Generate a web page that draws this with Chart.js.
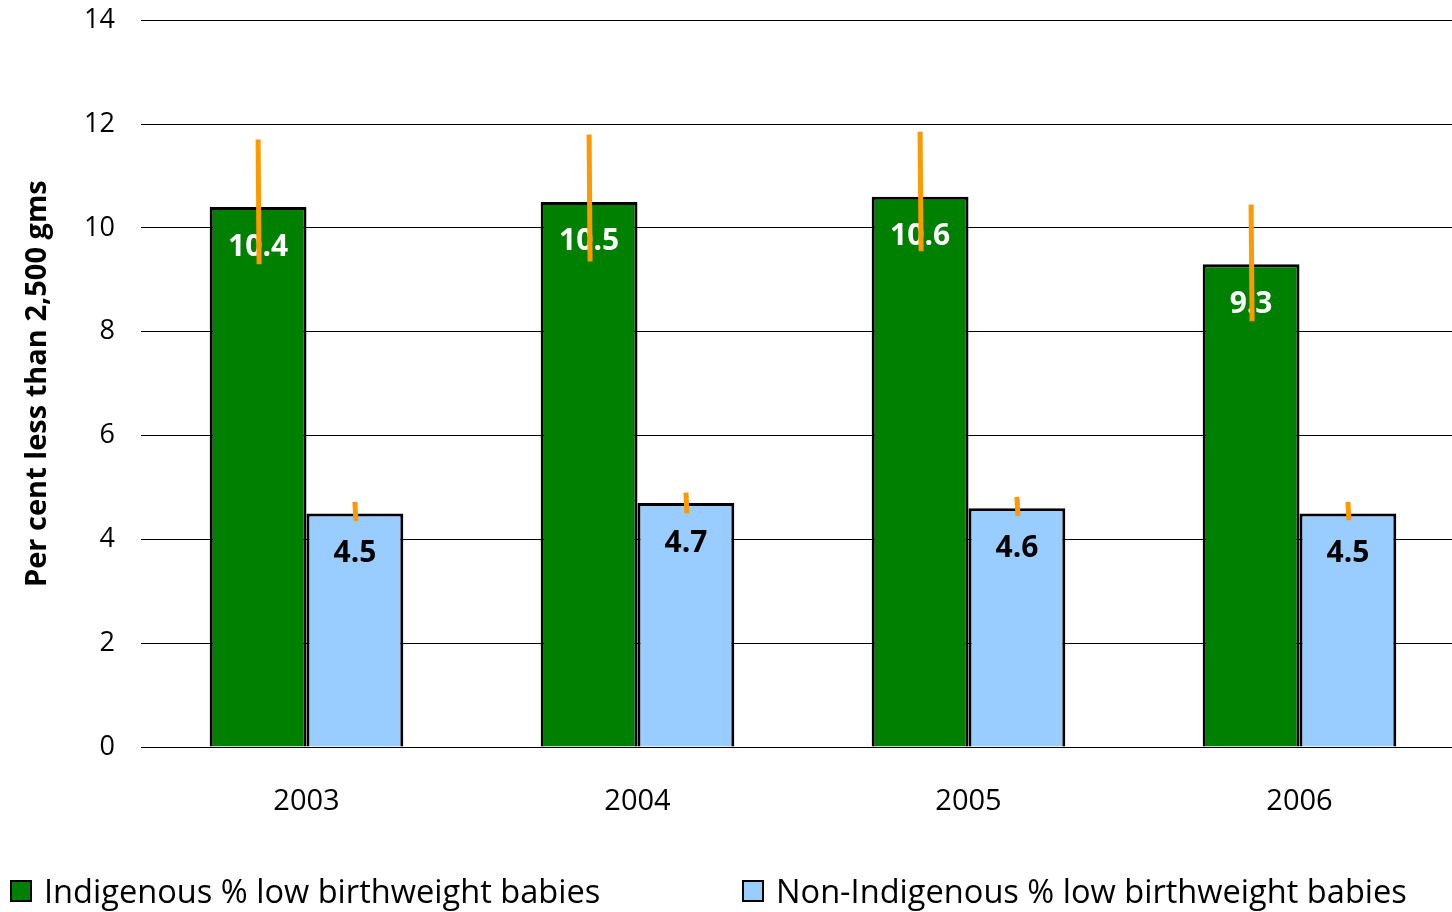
<!DOCTYPE html>
<html>
<head>
<meta charset="utf-8">
<script src="https://cdn.jsdelivr.net/npm/chart.js@4.4.1/dist/chart.umd.min.js"></script>
<style>
  html, body { margin: 0; padding: 0; background: #fff; overflow: hidden; }
  #wrap { width: 1452px; height: 912px; overflow: hidden; }
  #lbwChart { display: block; margin-top: -22px; }
</style>
</head>
<body>
<div id="wrap"><canvas id="lbwChart" width="1465" height="934"></canvas></div>
<script>
// 数据
const years = ['2003', '2004', '2005', '2006'];
const indigenous = [10.4, 10.5, 10.6, 9.3];
const nonIndigenous = [4.5, 4.7, 4.6, 4.5];
// 置信区间（误差线）
const indigenousLow = [9.3, 9.35, 9.55, 8.2];
const indigenousHigh = [11.7, 11.8, 11.85, 10.45];
const nonIndigenousLow = [4.35, 4.5, 4.45, 4.37];
const nonIndigenousHigh = [4.72, 4.9, 4.82, 4.72];
const yTicks = [0, 2, 4, 6, 8, 10, 12, 14];

const FONT = '"Open Sans", sans-serif';
const seriesNames = ['Indigenous % low birthweight babies', 'Non-Indigenous % low birthweight babies'];
const seriesColors = ['#008000', '#99CCFF'];
const labelColors = ['#ffffff', '#000000'];
const errLow = [indigenousLow, nonIndigenousLow];
const errHigh = [indigenousHigh, nonIndigenousHigh];

// 数值标签 + 误差线
const overlayPlugin = {
  id: 'overlay',
  afterDatasetsDraw(chart) {
    const ctx = chart.ctx;
    const y = chart.scales.y;
    chart.data.datasets.forEach((ds, di) => {
      const meta = chart.getDatasetMeta(di);
      meta.data.forEach((bar, i) => {
        ctx.save();
        ctx.font = 'bold 30px ' + FONT;
        ctx.fillStyle = labelColors[di];
        ctx.textAlign = 'center';
        ctx.textBaseline = 'middle';
        ctx.fillText(ds.data[i].toFixed(1), bar.x, bar.y + 40);
        ctx.restore();
      });
    });
    chart.data.datasets.forEach((ds, di) => {
      const meta = chart.getDatasetMeta(di);
      meta.data.forEach((bar, i) => {
        ctx.save();
        ctx.strokeStyle = '#FF9900';
        ctx.lineWidth = 5;
        ctx.beginPath();
        ctx.moveTo(bar.x, y.getPixelForValue(errHigh[di][i]));
        ctx.lineTo(bar.x + 1, y.getPixelForValue(errLow[di][i]));
        ctx.stroke();
        ctx.restore();
      });
    });
  },
  afterDraw(chart) {
    // 底部图例（画布整体上移了 22px）
    const ctx = chart.ctx;
    const xs = [10, 742];
    const cy = 893 + 22;
    ctx.save();
    ctx.font = '32.6px ' + FONT;
    ctx.textBaseline = 'middle';
    seriesNames.forEach((name, k) => {
      ctx.fillStyle = seriesColors[k];
      ctx.fillRect(xs[k] + 1, cy - 12, 20, 20);
      ctx.strokeStyle = '#000';
      ctx.lineWidth = 2;
      ctx.strokeRect(xs[k] + 1, cy - 12, 20, 20);
      ctx.fillStyle = '#000';
      ctx.fillText(name, xs[k] + 34, cy + 1);
    });
    ctx.restore();
  }
};

new Chart(document.getElementById('lbwChart').getContext('2d'), {
  type: 'bar',
  data: {
    labels: years,
    datasets: [{
      label: seriesNames[0],
      data: indigenous,
      backgroundColor: seriesColors[0],
      borderColor: '#000',
      borderWidth: 3
    }, {
      label: seriesNames[1],
      data: nonIndigenous,
      backgroundColor: seriesColors[1],
      borderColor: '#000',
      borderWidth: 3
    }]
  },
  options: {
    responsive: false,
    animation: false,
    devicePixelRatio: 1,
    layout: { padding: 0 },
    datasets: { bar: { categoryPercentage: 0.585, barPercentage: 1 } },
    scales: {
      x: {
        grid: { display: false },
        border: { display: false },
        ticks: { color: '#000', font: { family: FONT, size: 29 }, padding: 29 },
        afterFit: (s) => { s.height = 165; }
      },
      y: {
        min: 0,
        max: 14,
        afterBuildTicks: (s) => { s.ticks = yTicks.map(v => ({ value: v })); },
        grid: { color: '#000', lineWidth: 1, drawTicks: false },
        border: { display: false },
        ticks: { color: '#000', font: { family: FONT, size: 27 }, padding: 26 },
        title: {
          display: true,
          text: 'Per cent less than 2,500 gms',
          color: '#000',
          font: { family: FONT, size: 29, weight: 'bold' },
          padding: { top: 20, bottom: 0 }
        },
        afterFit: (s) => { s.width = 141; }
      }
    },
    plugins: {
      legend: { display: false },
      tooltip: { enabled: false }
    }
  },
  plugins: [overlayPlugin]
});
</script>
</body>
</html>
